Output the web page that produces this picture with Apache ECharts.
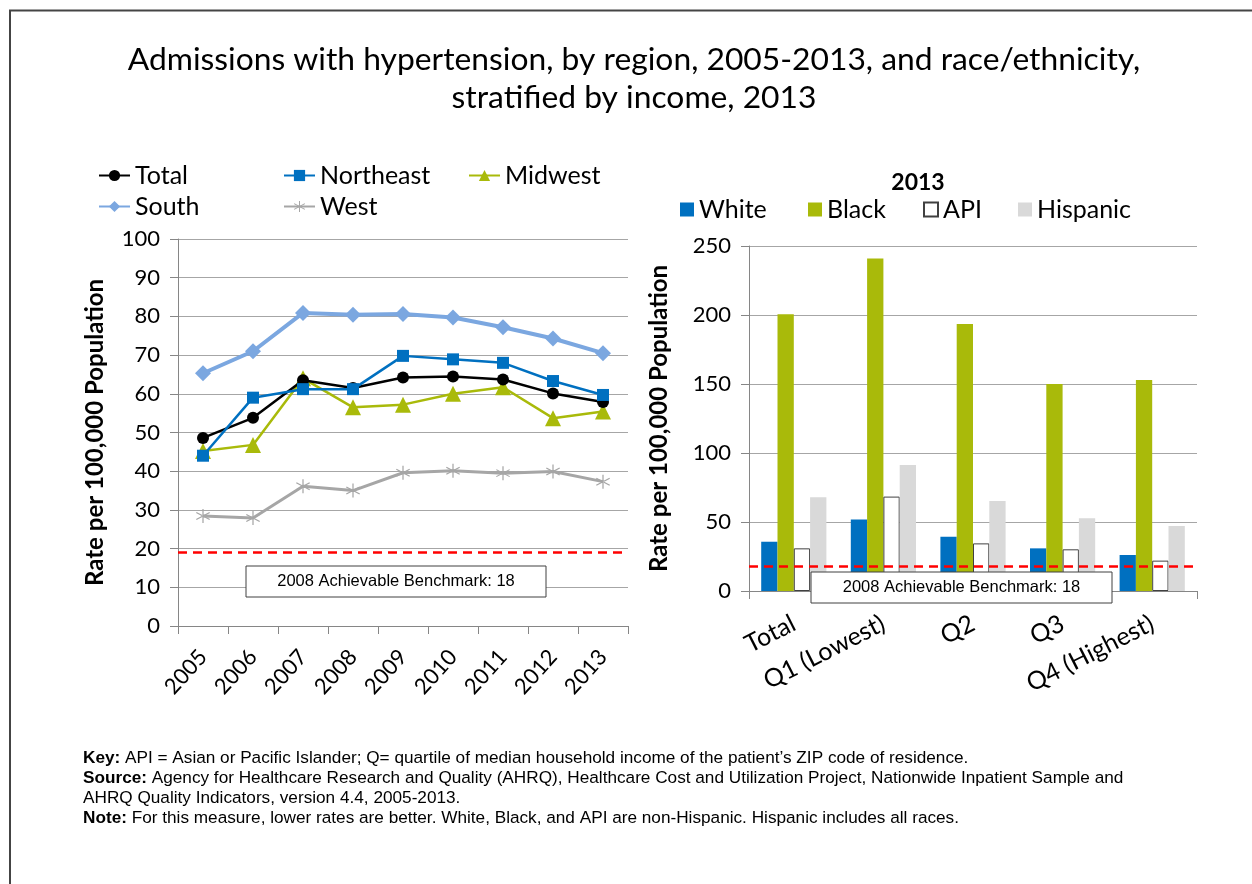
<!DOCTYPE html>
<html><head><meta charset="utf-8">
<script src="https://cdn.jsdelivr.net/npm/echarts@6/dist/echarts.min.js"></script>
<style>html,body{margin:0;padding:0;background:#fff}#c{width:1252px;height:884px}</style>
</head><body><div id="c"></div>
<script>
const years = ['2005','2006','2007','2008','2009','2010','2011','2012','2013'];
const total     = [48.6, 53.8, 63.5, 61.5, 64.2, 64.5, 63.7, 60.1, 57.9];
const northeast = [44.0, 59.0, 61.2, 61.2, 69.8, 68.9, 68.0, 63.3, 59.7];
const midwest   = [45.2, 46.8, 64.0, 56.5, 57.2, 60.0, 61.7, 53.7, 55.4];
const south     = [65.3, 71.0, 80.9, 80.4, 80.6, 79.7, 77.2, 74.3, 70.5];
const west      = [28.4, 27.9, 36.1, 35.0, 39.6, 40.1, 39.5, 39.9, 37.3];
const groups   = ['Total','Q1 (Lowest)','Q2','Q3','Q4 (Highest)'];
const white    = [35.7, 51.9, 39.4, 30.9, 26.1];
const black    = [200.5, 241.0, 193.5, 150.0, 152.9];
const api      = [30.9, 68.4, 34.5, 30.2, 22.0];
const hispanic = [67.9, 91.3, 65.2, 52.7, 47.1];
const benchLeft = [19];
const benchRight = [18];
const benchLabel = '2008 Achievable Benchmark: 18';
const leftTicks = [0, 100, 10];
const rightTicks = [0, 250, 50];

const F = 'Lato, "Open Sans", sans-serif';
const N = '"Liberation Sans", Arial, sans-serif';
const star = 'path://M9.2,0L10.8,0L10.8,20L9.2,20Z M0.94,5.69L18.26,15.69L19.06,14.31L1.74,4.31Z M0.94,14.31L18.26,4.31L19.06,5.69L1.74,15.69Z';

const chart = echarts.init(document.getElementById('c'), null, {renderer:'canvas'});

function lg(name, left, top) {
  return {data:[name], left:left, top:top, itemWidth:31, itemHeight:14, itemGap:0, padding:0,
    textStyle:{fontFamily:F, fontSize:25, color:'#000'}, selectedMode:false};
}
function rlg(name, left) {
  return {data:[name], left:left, top:197, itemWidth:14, itemHeight:14, icon:'rect', padding:0, selectedMode:false,
    textStyle:{fontFamily:F, fontSize:25, color:'#000'}};
}
const bmLine = (v) => ({silent:true, symbol:'none', label:{show:false},
  lineStyle:{color:'#FF0000', type:[9,6], width:2.5}, data:[{yAxis:v}]});

const option = {
  animation:false,
  title:[
    {text:'2013', left:913, top:166, textAlign:'center', textStyle:{fontFamily:F, fontSize:23, fontWeight:'bold', color:'#000'}}
  ],
  legend:[
    lg('Total', 98, 163), lg('Northeast', 283, 163), lg('Midwest', 468, 163),
    lg('South', 98, 194), lg('West', 283, 194),
    rlg('White', 680), rlg('Black', 808), rlg('API', 923), rlg('Hispanic', 1018)
  ],
  grid:[
    {left:178, top:239, width:450, height:387},
    {left:749, top:246, width:448, height:345}
  ],
  xAxis:[
    {type:'category', gridIndex:0, data:years, boundaryGap:true,
     axisLine:{lineStyle:{color:'#868686', width:1}}, axisTick:{show:true, length:8, lineStyle:{color:'#868686'}},
     axisLabel:{rotate:48, margin:27, fontFamily:F, fontSize:22, color:'#000'}},
    {type:'category', gridIndex:1, data:groups, boundaryGap:true,
     axisLine:{lineStyle:{color:'#868686', width:1}}, axisTick:{show:true, length:8, lineStyle:{color:'#868686'}},
     axisLabel:{rotate:27, margin:31, fontFamily:F, fontSize:25, color:'#000', interval:0}}
  ],
  yAxis:[
    {type:'value', gridIndex:0, min:leftTicks[0], max:leftTicks[1], interval:leftTicks[2],
     name:'Rate per 100,000 Population', nameLocation:'middle', nameGap:71,
     nameTextStyle:{fontFamily:F, fontSize:24, fontWeight:'bold', color:'#000'},
     axisLine:{show:true, lineStyle:{color:'#868686'}}, axisTick:{show:true, length:8, lineStyle:{color:'#868686'}},
     splitLine:{lineStyle:{color:'#A6A6A6', width:1}},
     axisLabel:{margin:18, fontFamily:F, fontSize:22, color:'#000'}},
    {type:'value', gridIndex:1, min:rightTicks[0], max:rightTicks[1], interval:rightTicks[2],
     name:'Rate per 100,000 Population', nameLocation:'middle', nameGap:78,
     nameTextStyle:{fontFamily:F, fontSize:24, fontWeight:'bold', color:'#000'},
     axisLine:{show:true, lineStyle:{color:'#868686'}}, axisTick:{show:true, length:8, lineStyle:{color:'#868686'}},
     splitLine:{lineStyle:{color:'#A6A6A6', width:1}},
     axisLabel:{margin:18, fontFamily:F, fontSize:22, color:'#000'}}
  ],
  series:[
    {name:'West', type:'line', xAxisIndex:0, yAxisIndex:0, data:west, symbol:star, symbolSize:14,
     lineStyle:{color:'#A6A6A6', width:3}, itemStyle:{color:'#A6A6A6'}, z:2},
    {name:'South', type:'line', xAxisIndex:0, yAxisIndex:0, data:south, symbol:'diamond', symbolSize:16,
     lineStyle:{color:'#7BA7E0', width:4}, itemStyle:{color:'#7BA7E0'}, z:2},
    {name:'Midwest', type:'line', xAxisIndex:0, yAxisIndex:0, data:midwest, symbol:'triangle', symbolSize:16,
     lineStyle:{color:'#A9BA0A', width:2.5}, itemStyle:{color:'#A9BA0A'}, z:3},
    {name:'Total', type:'line', xAxisIndex:0, yAxisIndex:0, data:total, symbol:'circle', symbolSize:12,
     lineStyle:{color:'#000', width:2.5}, itemStyle:{color:'#000'}, z:4, markLine:bmLine(benchLeft[0])},
    {name:'Northeast', type:'line', xAxisIndex:0, yAxisIndex:0, data:northeast, symbol:'rect', symbolSize:12,
     lineStyle:{color:'#0070C0', width:2.5}, itemStyle:{color:'#0070C0'}, z:5},
    {name:'White', type:'bar', xAxisIndex:1, yAxisIndex:1, data:white, barWidth:16.3, barGap:'0%',
     itemStyle:{color:'#0070C0'}},
    {name:'Black', type:'bar', xAxisIndex:1, yAxisIndex:1, data:black, barWidth:16.3, barGap:'0%',
     itemStyle:{color:'#A9BA0A'}},
    {name:'API', type:'bar', xAxisIndex:1, yAxisIndex:1, data:api, barWidth:16.3, barGap:'0%',
     itemStyle:{color:'#FFFFFF', borderColor:'#404040', borderWidth:1}},
    {name:'Hispanic', type:'bar', xAxisIndex:1, yAxisIndex:1, data:hispanic, barWidth:16.3, barGap:'0%',
     itemStyle:{color:'#D9D9D9'}, markLine:bmLine(benchRight[0])}
  ],
  graphic:[
    {type:'rect', z:100, shape:{x:10, y:10.5, width:1400, height:1000}, style:{fill:'none', stroke:'#444', lineWidth:2}},
    {type:'text', z:101, x:634, y:60, style:{text:'Admissions with hypertension, by region, 2005-2013, and race/ethnicity,',
      fontFamily:F, fontSize:31.8, fill:'#000', align:'center', verticalAlign:'middle'}},
    {type:'text', z:101, x:634, y:98, style:{text:'stratified by income, 2013',
      fontFamily:F, fontSize:31.8, fill:'#000', align:'center', verticalAlign:'middle'}},
    {type:'rect', z:100, shape:{x:246, y:566, width:300, height:31}, style:{fill:'#fff', stroke:'#404040', lineWidth:1}},
    {type:'text', z:101, x:396, y:581.5, style:{text:benchLabel, fontFamily:N, fontSize:16.5, fill:'#000', align:'center', verticalAlign:'middle'}},
    {type:'rect', z:100, shape:{x:811, y:572, width:301, height:31}, style:{fill:'#fff', stroke:'#404040', lineWidth:1}},
    {type:'text', z:101, x:961.5, y:587.5, style:{text:benchLabel, fontFamily:N, fontSize:16.5, fill:'#000', align:'center', verticalAlign:'middle'}},
    {type:'text', z:101, x:83, y:748, style:{
      text:'{b|Key:} API = Asian or Pacific Islander; Q= quartile of median household income of the patient\u2019s ZIP code of residence.\n{b|Source:} Agency for Healthcare Research and Quality (AHRQ), Healthcare Cost and Utilization Project, Nationwide Inpatient Sample and\nAHRQ Quality Indicators, version 4.4, 2005-2013.\n{b|Note:} For this measure, lower rates are better. White, Black, and API are non-Hispanic. Hispanic includes all races.',
      fontFamily:N, fontSize:17.2, fill:'#000', lineHeight:20,
      rich:{b:{fontFamily:N, fontSize:17.2, fontWeight:'bold', fill:'#000', lineHeight:20}}}}
  ]
};
chart.setOption(option);
</script></body></html>
